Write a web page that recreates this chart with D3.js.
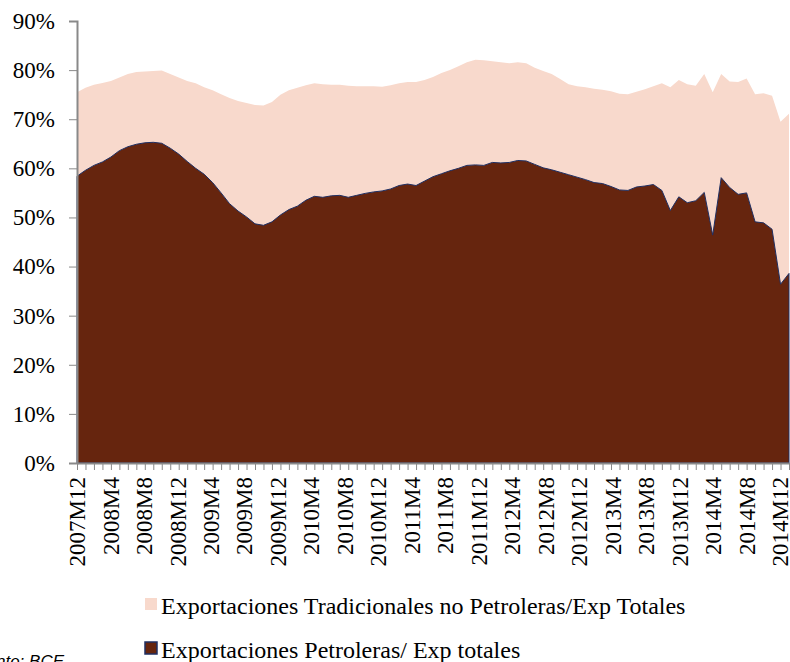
<!DOCTYPE html>
<html>
<head>
<meta charset="utf-8">
<script src="https://cdn.jsdelivr.net/npm/d3@7"></script>
<style>
  body { margin: 0; background: #fff; }
  svg { display: block; }
  .axis text { font-family: "Liberation Serif", "Times New Roman", serif; font-size: 23px; fill: #000; }
  .axis path, .axis line { stroke: #898989; }
  .legend text { font-family: "Liberation Serif", "Times New Roman", serif; font-size: 24px; fill: #000; }
  .source { font-family: "Liberation Sans", Arial, sans-serif; font-size: 17px; font-style: italic; }
</style>
</head>
<body>
<div id="chart"></div>
<script>
// month labels, 2007M12 .. 2014M12
const months = ['2007M12'];
[2008, 2009, 2010, 2011, 2012, 2013, 2014].forEach((yr) => {
  for (let m = 1; m <= 12; m++) months.push(`${yr}M${m}`);
});

// share of total exports, %
const petroleras = [
  58.4, 59.6, 60.6, 61.3, 62.3, 63.6, 64.4, 64.9, 65.2, 65.3, 65.1, 64.1, 62.9,
  61.4, 60.0, 58.8, 57.1, 55.0, 52.8, 51.3, 50.1, 48.7, 48.4, 49.1, 50.5,
  51.6, 52.3, 53.5, 54.3, 54.1, 54.4, 54.5, 54.1, 54.5, 54.9, 55.2, 55.4,
  55.8, 56.5, 56.8, 56.5, 57.4, 58.3, 58.9, 59.5, 60.0, 60.6, 60.7, 60.6,
  61.2, 61.1, 61.2, 61.6, 61.5, 60.8, 60.1, 59.7, 59.2, 58.7, 58.2, 57.7,
  57.1, 56.9, 56.3, 55.6, 55.5, 56.2, 56.4, 56.7, 55.5, 51.4, 54.2, 53.0,
  53.4, 55.1, 46.4, 58.1, 56.1, 54.7, 55.0, 49.1, 48.9, 47.6, 36.4, 38.6,
];

const tradicionales = [
  17.1, 16.8, 16.4, 16.1, 15.5, 14.9, 14.8, 14.7, 14.5, 14.5, 14.8, 15.1, 15.6,
  16.4, 17.3, 17.7, 18.8, 20.1, 21.5, 22.4, 23.2, 24.2, 24.4, 24.4, 24.5,
  24.3, 24.1, 23.4, 23.0, 23.0, 22.6, 22.5, 22.7, 22.2, 21.8, 21.5, 21.2,
  21.1, 20.8, 20.8, 21.1, 20.6, 20.3, 20.5, 20.5, 20.8, 21.0, 21.4, 21.4,
  20.6, 20.5, 20.2, 20.0, 19.9, 19.7, 19.7, 19.5, 19.0, 18.4, 18.5, 18.8,
  19.1, 19.1, 19.4, 19.6, 19.6, 19.4, 19.7, 20.0, 21.8, 25.1, 23.8, 24.1,
  23.4, 24.1, 29.1, 21.1, 21.6, 22.9, 23.3, 26.0, 26.4, 27.2, 33.1, 32.5,
];

const yTicks = [0, 10, 20, 30, 40, 50, 60, 70, 80, 90];

const seriesNames = [
  'Exportaciones Tradicionales no Petroleras/Exp Totales',
  'Exportaciones Petroleras/ Exp totales',
];

const W = 790, H = 662;
const margin = { top: 21, right: 1, bottom: 199, left: 77 };
const width = W - margin.left - margin.right;
const height = H - margin.top - margin.bottom;

const svg = d3.select('#chart').append('svg')
  .attr('width', W)
  .attr('height', H);

const g = svg.append('g')
  .attr('transform', `translate(${margin.left}, ${margin.top})`);

const x = d3.scalePoint()
  .domain(months)
  .range([0, width]);

// labels sit on a slightly tighter spacing so the last one stays inside
const xLabel = d3.scalePoint()
  .domain(months)
  .range([0, width - 9]);

const y = d3.scaleLinear()
  .domain([0, 90])
  .range([height, 0]);

const rows = months.map((m, i) => ({ month: m, pet: petroleras[i], trad: tradicionales[i] }));
const stacked = d3.stack().keys(['pet', 'trad'])(rows);

const area = d3.area()
  .x(d => x(d.data.month))
  .y0(d => y(d[0]))
  .y1(d => y(d[1]));

// non-oil traditional on top of oil
g.append('path')
  .datum(stacked[1])
  .attr('fill', '#f8d9cc')
  .attr('d', area);

g.append('path')
  .datum(stacked[0])
  .attr('fill', '#66250e')
  .attr('stroke', '#1f2f63')
  .attr('stroke-width', 1)
  .attr('d', area);

// axes
const yAxis = g.append('g')
  .attr('class', 'axis')
  .call(d3.axisLeft(y).tickValues(yTicks).tickSize(8).tickPadding(14).tickFormat(d => d + '%'));
yAxis.selectAll('text').attr('dy', '0.32em');
yAxis.select('.domain').attr('stroke-width', 2);

const xAxis = g.append('g')
  .attr('class', 'axis')
  .attr('transform', `translate(0, ${height})`)
  .call(d3.axisBottom(x).tickSize(7).tickSizeOuter(0)
    .tickFormat((d, i) => (i % 4 === 0 ? d : '')));
xAxis.select('.domain').attr('stroke-width', 2);
xAxis.selectAll('text')
  .attr('transform', d => `translate(${xLabel(d) - x(d)}, 0) rotate(-90)`)
  .attr('text-anchor', 'end')
  .attr('x', -14)
  .attr('y', 0)
  .attr('dy', '0.33em');

// legend
const legendColors = ['#f8d9cc', '#66250e'];
const legend = svg.append('g').attr('class', 'legend');
seriesNames.forEach((name, i) => {
  const row = legend.append('g')
    .attr('transform', `translate(145, ${598 + i * 44})`);
  row.append('rect')
    .attr('width', 12)
    .attr('height', 12)
    .attr('fill', legendColors[i])
    .attr('stroke', i === 1 ? '#1f2f63' : 'none')
    .attr('stroke-width', 1.5);
  row.append('text')
    .attr('x', 16)
    .attr('y', 16)
    .text(name);
});

svg.append('text')
  .attr('class', 'source')
  .attr('x', 64)
  .attr('y', 667)
  .attr('text-anchor', 'end')
  .text('Fuente: BCE');
</script>
</body>
</html>
